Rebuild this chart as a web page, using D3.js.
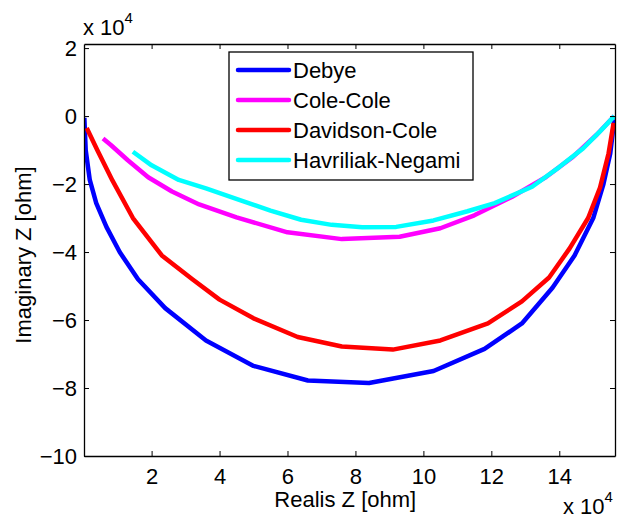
<!DOCTYPE html>
<html>
<head>
<meta charset="utf-8">
<script src="https://cdn.jsdelivr.net/npm/d3@7"></script>
<style>
  body { margin: 0; background: #fff; }
  text { font-family: Arial, "Liberation Sans", sans-serif; fill: #000; }
</style>
</head>
<body>
<div id="chart"></div>
<script>
// values in units of 1e4 ohm
let seriesNames = ["Debye", "Cole-Cole", "Davidson-Cole", "Havriliak-Negami"];
let seriesColors = ["#0000ff", "#ff00ff", "#ff0000", "#00ffff"];

let debyeRe = [0.02, 0.06, 0.18, 0.37, 0.67, 1.06, 1.6, 2.4, 3.6, 5.0, 6.6, 8.4, 10.3, 11.8, 12.9, 13.8, 14.45, 15.0, 15.3, 15.5, 15.62];
let debyeIm = [-0.05, -1.0, -1.88, -2.56, -3.26, -4.0, -4.8, -5.65, -6.6, -7.35, -7.78, -7.85, -7.5, -6.85, -6.1, -5.05, -4.1, -3.0, -2.0, -1.1, -0.1];

let coleRe = [0.57, 0.8, 1.3, 1.9, 2.6, 3.4, 4.5, 6.0, 7.6, 9.3, 10.5, 11.5, 12.6, 13.6, 14.4, 15.1, 15.62];
let coleIm = [-0.66, -0.85, -1.3, -1.8, -2.22, -2.6, -2.98, -3.42, -3.62, -3.55, -3.3, -2.92, -2.38, -1.8, -1.2, -0.55, 0.0];

let davidsonRe = [0.09, 0.4, 0.85, 1.45, 2.3, 3.2, 4.0, 5.0, 6.3, 7.6, 9.1, 10.5, 11.9, 12.9, 13.7, 14.3, 14.85, 15.2, 15.45, 15.6];
let davidsonIm = [-0.35, -1.0, -1.9, -3.0, -4.1, -4.8, -5.4, -5.95, -6.5, -6.78, -6.87, -6.6, -6.1, -5.45, -4.75, -3.9, -3.0, -2.1, -1.1, -0.2];

let havriliakRe = [1.45, 2.0, 2.8, 3.6, 4.6, 5.5, 6.4, 7.3, 8.2, 9.2, 10.3, 11.3, 12.1, 13.2, 14.0, 14.7, 15.2, 15.62];
let havriliakIm = [-1.05, -1.45, -1.88, -2.13, -2.47, -2.78, -3.05, -3.2, -3.27, -3.26, -3.07, -2.8, -2.56, -2.08, -1.5, -0.95, -0.45, 0.0];

let xTicks = [2, 4, 6, 8, 10, 12, 14];
let yTicks = [-10, -8, -6, -4, -2, 0, 2];

let margin = {top: 44, right: 2, bottom: 63, left: 84};
let fullWidth = 617, fullHeight = 519;
let width = fullWidth - margin.left - margin.right;
let height = fullHeight - margin.top - margin.bottom;

let svg = d3.select("#chart").append("svg")
    .attr("width", fullWidth)
    .attr("height", fullHeight);

let x = d3.scaleLinear().domain([0.01, 15.64]).range([0, width]);
let y = d3.scaleLinear().domain([-10, 2.12]).range([height, 0]);

let g = svg.append("g")
    .attr("transform", "translate(" + margin.left + "," + margin.top + ")");

g.append("defs").append("clipPath").attr("id", "clip")
  .append("rect").attr("x", 0).attr("y", 0).attr("width", width).attr("height", height);

let data = [
  {re: debyeRe, im: debyeIm},
  {re: coleRe, im: coleIm},
  {re: davidsonRe, im: davidsonIm},
  {re: havriliakRe, im: havriliakIm}
].map((s, i) => ({
  name: seriesNames[i],
  color: seriesColors[i],
  points: s.re.map((v, j) => [v, s.im[j]])
}));

let line = d3.line().x(d => x(d[0])).y(d => y(d[1]));

g.append("g").attr("clip-path", "url(#clip)")
  .selectAll("path")
  .data(data)
  .enter()
  .append("path")
    .attr("d", d => line(d.points))
    .attr("fill", "none")
    .attr("stroke", d => d.color)
    .attr("stroke-width", 4.5)
    .attr("stroke-linejoin", "round");

// axes, MATLAB style: ticks inward on all four sides
let tickLen = 5;
let xAxis = g.append("g").attr("transform", "translate(0," + height + ")")
    .call(d3.axisBottom(x).tickValues(xTicks).tickSizeInner(-tickLen).tickSizeOuter(0).tickPadding(12));
let yAxis = g.append("g")
    .call(d3.axisLeft(y).tickValues(yTicks).tickSizeInner(-tickLen).tickSizeOuter(0).tickPadding(7));
let xTop = g.append("g")
    .call(d3.axisTop(x).tickValues(xTicks).tickSizeInner(-tickLen).tickSizeOuter(0).tickFormat(""));
let yRight = g.append("g").attr("transform", "translate(" + width + ",0)")
    .call(d3.axisRight(y).tickValues(yTicks).tickSizeInner(-tickLen).tickSizeOuter(0).tickFormat(""));

[xAxis, yAxis, xTop, yRight].forEach(a => {
  a.select(".domain").attr("stroke", "#000").attr("stroke-width", 1.3);
  a.selectAll(".tick line").attr("stroke", "#000");
  a.selectAll("text").attr("font-size", 22).attr("font-family", "Arial, 'Liberation Sans', sans-serif").attr("fill", "#000");
});
xAxis.selectAll("text").attr("dy", "0.71em");

// exponent labels
let expTop = svg.append("text").attr("x", 83).attr("y", 35).attr("font-size", 22);
expTop.append("tspan").text("x 10");
expTop.append("tspan").attr("dy", -12).attr("font-size", 15).text("4");

let expBot = svg.append("text").attr("x", 563).attr("y", 514).attr("font-size", 22);
expBot.append("tspan").text("x 10");
expBot.append("tspan").attr("dy", -12).attr("font-size", 15).text("4");

// axis titles
svg.append("text")
  .attr("x", margin.left + x(7.7)).attr("y", 507)
  .attr("text-anchor", "middle").attr("font-size", 22)
  .text("Realis Z [ohm]");

svg.append("text")
  .attr("transform", "translate(31," + (margin.top + height / 2 + 5) + ") rotate(-90)")
  .attr("text-anchor", "middle").attr("font-size", 22)
  .text("Imaginary Z [ohm]");

// legend
let legend = svg.append("g").attr("transform", "translate(229,52)");
legend.append("rect")
  .attr("width", 244).attr("height", 128)
  .attr("fill", "#fff").attr("stroke", "#000").attr("stroke-width", 1.3);

let items = legend.selectAll(".legend")
  .data(data)
  .enter()
  .append("g")
    .attr("class", "legend")
    .attr("transform", (d, i) => "translate(0," + (18 + i * 30) + ")");

items.append("line")
  .attr("x1", 9).attr("x2", 60)
  .attr("stroke", d => d.color).attr("stroke-width", 4.5).attr("stroke-linecap", "round");

items.append("text")
  .attr("x", 64).attr("y", 8)
  .attr("font-size", 22)
  .text(d => d.name);
</script>
</body>
</html>
